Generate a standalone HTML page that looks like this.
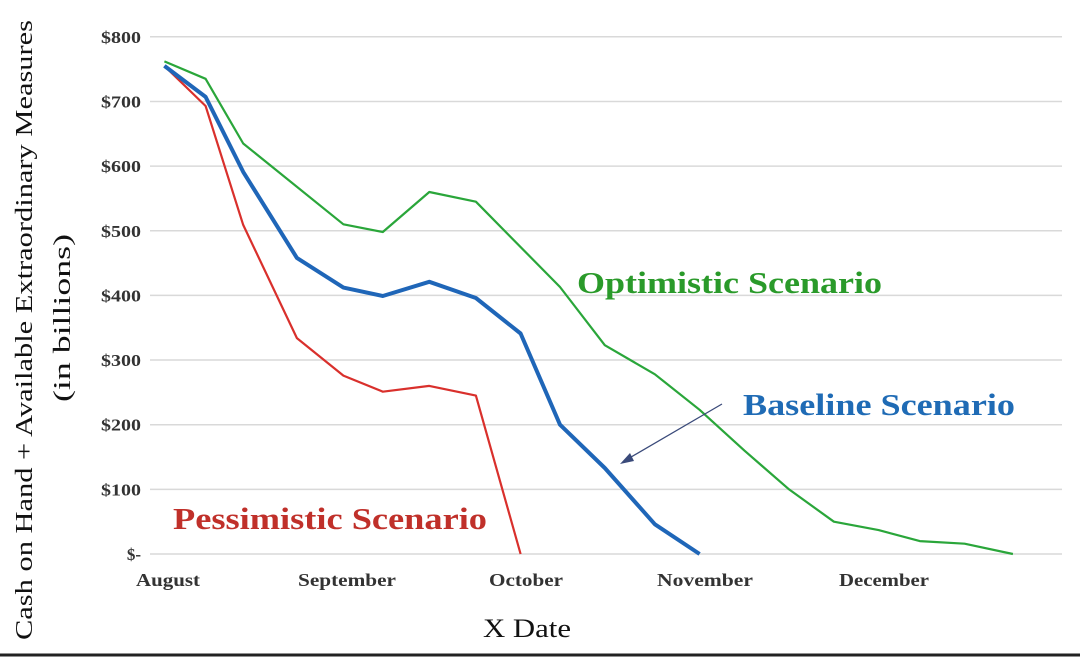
<!DOCTYPE html>
<html><head><meta charset="utf-8"><style>
body{margin:0;background:#fff;}
svg text{font-family:"Liberation Serif",serif;}
</style></head><body>
<svg id="chart" width="1080" height="657" xmlns="http://www.w3.org/2000/svg">
<rect width="1080" height="657" fill="#fff"/>
<g id="grid"></g><g id="yt"></g><g id="xt"></g><g id="lines"></g>
<text transform="translate(32,330) rotate(-90)" text-anchor="middle" font-size="24" textLength="620" lengthAdjust="spacingAndGlyphs" fill="#111">Cash on Hand + Available Extraordinary Measures</text>
<text transform="translate(70,318) rotate(-90)" text-anchor="middle" font-size="24" textLength="168" lengthAdjust="spacingAndGlyphs" fill="#111">(in billions)</text>
<text x="527" y="637" text-anchor="middle" font-size="26" textLength="88" lengthAdjust="spacingAndGlyphs" fill="#111">X Date</text>
<text x="577" y="293" font-size="31" font-weight="bold" textLength="305" lengthAdjust="spacingAndGlyphs" fill="#2a9a2a">Optimistic Scenario</text>
<text x="743" y="415" font-size="31" font-weight="bold" textLength="272" lengthAdjust="spacingAndGlyphs" fill="#1f6bb5">Baseline Scenario</text>
<text x="173" y="529" font-size="31" font-weight="bold" textLength="314" lengthAdjust="spacingAndGlyphs" fill="#c0302a">Pessimistic Scenario</text>
<line x1="722" y1="404" x2="626" y2="460" stroke="#3a4a7a" stroke-width="1.3"/>
<polygon points="620,464 630,453 634,461" fill="#3a4a7a"/>
<line x1="0" y1="655" x2="1080" y2="655" stroke="#222" stroke-width="3"/>
</svg>
<script>
const months=["August","September","October","November","December"];
const monthW=[64,98,74,96,90];
const yTicks=[0,100,200,300,400,500,600,700,800];
const xPos=[-0.02,0.21,0.42,0.72,0.98,1.20,1.46,1.72,1.97,2.19,2.44,2.72,2.97,3.22,3.47,3.72,3.97,4.20,4.45,4.72];
const optimistic=[762,735,635,510,498,560,545,413,323,278,223,160,100,50,37,20,16,0];
const optimisticX=[-0.02,0.21,0.42,0.98,1.20,1.46,1.72,2.19,2.44,2.72,2.97,3.22,3.47,3.72,3.97,4.20,4.45,4.72];
const baseline=[755,707,591,458,412,399,421,396,341,200,133,46,0];
const pessimistic=[755,693,509,334,276,251,260,245,0];
const NS="http://www.w3.org/2000/svg";
const xS=m=>168+179*m, yS=v=>554-v*0.6465;
function mk(t,a,p){const e=document.createElementNS(NS,t);for(const k in a)e.setAttribute(k,a[k]);p.appendChild(e);return e;}
const grid=document.getElementById('grid'),yt=document.getElementById('yt'),xt=document.getElementById('xt'),lines=document.getElementById('lines');
yTicks.forEach(v=>{
 const l=mk('line',{x1:150,x2:1062,y1:yS(v),y2:yS(v),stroke:'#d9d9d9','stroke-width':1.5},grid);
 
 
 const t=mk('text',{x:141,y:yS(v)+6,'text-anchor':'end','font-size':17,'font-weight':'bold',fill:'#333'},yt);
 t.textContent=v===0?'$-':'$'+v;
 if(v>0){t.setAttribute('textLength',40);t.setAttribute('lengthAdjust','spacingAndGlyphs');}
 
 
});
months.forEach((m,i)=>{
 const t=mk('text',{x:xS(i),y:586,'text-anchor':'middle','font-size':18,'font-weight':'bold',fill:'#333',textLength:monthW[i],lengthAdjust:'spacingAndGlyphs'},xt);
 t.textContent=m;
 
 
});
function series(xs,vals,color,w,name){
 const d=vals.map((v,i)=>(i?'L':'M')+xS(xs[i]).toFixed(1)+','+yS(v).toFixed(1)).join(' ');
 const p=mk('path',{d,fill:'none',stroke:color,'stroke-width':w,'stroke-linejoin':'round'},lines);
 
 
}
series(optimisticX,optimistic,'#2aa63a',2.2,'optimistic-line');
series(xPos,pessimistic,'#d9302c',2.2,'pessimistic-line');
series(xPos,baseline,'#1f66b8',4,'baseline-line');
</script>
</body></html>
